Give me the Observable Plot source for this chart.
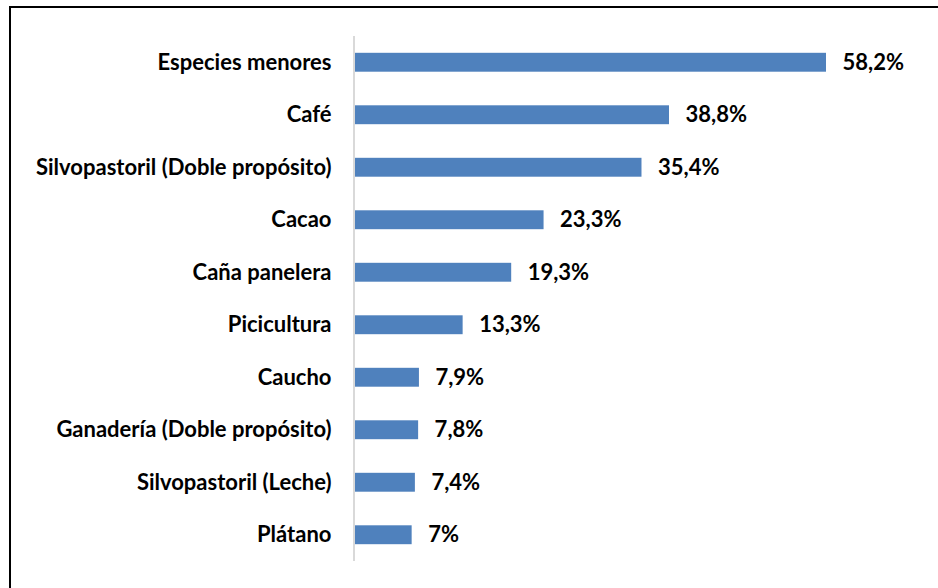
<!DOCTYPE html>
<html>
<head>
<meta charset="utf-8">
<script src="https://cdn.jsdelivr.net/npm/d3@7"></script>
<script src="https://cdn.jsdelivr.net/npm/@observablehq/plot@0.6"></script>
<style>
  html, body { margin: 0; padding: 0; background: #fff; width: 938px; height: 588px; overflow: hidden; }
  #frame { position: absolute; left: 9px; top: 6px; width: 1000px; height: 700px; border-left: 2px solid #000; border-top: 2px solid #000; box-sizing: border-box; }
  #chart { position: absolute; left: 0; top: 0; }
</style>
</head>
<body>
<div id="frame"></div>
<div id="chart"></div>
<script>
const categories = [
  "Especies menores",
  "Café",
  "Silvopastoril (Doble propósito)",
  "Cacao",
  "Caña panelera",
  "Picicultura",
  "Caucho",
  "Ganadería (Doble propósito)",
  "Silvopastoril (Leche)",
  "Plátano"
];
const values = [58.2, 38.8, 35.4, 23.3, 19.3, 13.3, 7.9, 7.8, 7.4, 7.0];
const valueLabels = ["58,2%", "38,8%", "35,4%", "23,3%", "19,3%", "13,3%", "7,9%", "7,8%", "7,4%", "7%"];

const data = categories.map((c, i) => ({ category: c, value: values[i], label: valueLabels[i] }));

const chart = Plot.plot({
  width: 938,
  height: 588,
  marginLeft: 355,
  marginRight: 112,
  marginTop: 36,
  marginBottom: 27,
  style: { fontFamily: "Lato, 'Open Sans', sans-serif", fontSize: "22px", fontWeight: "bold", color: "#000", background: "transparent" },
  x: { domain: [0, 58.2], axis: null },
  y: { domain: categories, paddingInner: 0.64, paddingOuter: 0.32, round: false, label: null },
  marks: [
    Plot.axisY({ tickSize: 0, tickPadding: 24, fontSize: 22, fontWeight: "bold", label: null }),
    Plot.barX(data, { x: "value", y: "category", fill: "#4F81BD" }),
    Plot.ruleX([0], { stroke: "#d9d9d9", strokeWidth: 2, dx: -1.5 }),
    Plot.text(data, { x: "value", y: "category", text: "label", textAnchor: "start", dx: 16, fontSize: 22, fontWeight: "bold", fill: "#000" })
  ]
});
document.getElementById("chart").appendChild(chart);
</script>
</body>
</html>
